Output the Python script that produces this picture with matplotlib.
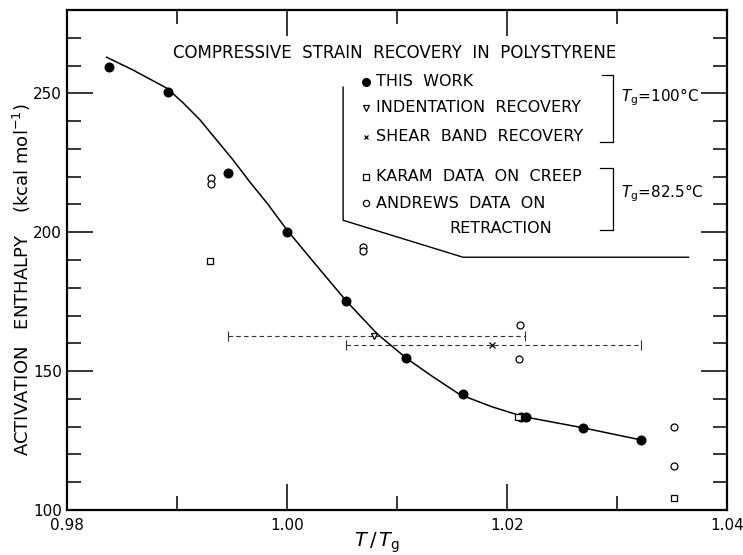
import matplotlib
matplotlib.use('Agg')
import matplotlib.pyplot as plt
from matplotlib.ticker import MultipleLocator

# data
this_work_x = [0.9838, 0.9892, 0.9946, 1.0000, 1.0054, 1.0108, 1.0160, 1.0213, 1.0217, 1.0269, 1.0322]
this_work_y = [259.6, 250.4, 221.2, 200.0, 175.2, 154.8, 141.8, 133.6, 133.6, 129.6, 125.2]

# hand-drawn fit curve, traced
fit_x = [0.9836, 0.9860, 0.9891, 0.9906, 0.9921, 0.9936, 0.9951, 0.9966, 0.9982, 1.0000,
         1.0026, 1.0054, 1.0082, 1.0108, 1.0131, 1.0157, 1.0186, 1.0215, 1.0269, 1.0322]
fit_y = [263.0, 258.4, 251.8, 246.4, 240.4, 233.2, 226.0, 218.2, 210.4, 200.8,
         188.4, 175.2, 163.4, 154.8, 148.4, 141.6, 137.2, 133.6, 129.6, 125.2]

andrews_x = [0.9931, 0.9931, 1.0069, 1.0069, 1.0212, 1.0211, 1.0352, 1.0352]
andrews_y = [219.6, 217.2, 194.8, 193.3, 166.7, 154.2, 129.9, 115.9]

karam_x = [0.9930, 1.0210, 1.0352]
karam_y = [189.7, 133.4, 104.2]

indent_x, indent_y = 1.0079, 162.6
indent_err = [[0.0133], [0.0137]]
shear_x, shear_y = 1.0186, 159.4
shear_err = [[0.0132], [0.0136]]

fig = plt.figure(figsize=(7.43, 5.55), dpi=100)
ax = fig.add_axes([67/743, 45/555, 660/743, 500/555])

ax.plot(fit_x, fit_y, color='black', lw=1.1)
ax.plot(this_work_x, this_work_y, 'o', color='black', ms=6.2)
ax.plot(andrews_x, andrews_y, 'o', mfc='white', mec='black', mew=0.9, ms=5)
ax.plot(karam_x, karam_y, 's', mfc='white', mec='black', mew=0.9, ms=4.8)

# error bars (dashed)
for x, y, err in [(indent_x, indent_y, indent_err), (shear_x, shear_y, shear_err)]:
    eb = ax.errorbar([x], [y], xerr=err, fmt='none', ecolor='#333333', elinewidth=0.8,
                     capsize=3.5, capthick=0.8)
    eb[2][0].set_linestyle((0, (4, 3)))
ax.plot([indent_x], [indent_y], 'v', mfc='white', mec='black', mew=0.9, ms=5)
ax.plot([shear_x], [shear_y], 'x', color='black', mew=0.9, ms=4)

# legend box outline
ax.plot([1.0051, 1.0051, 1.0160, 1.0365], [252.2, 204.3, 191.0, 191.0], color='black', lw=1.0)

ax.text(1.0098, 264.7, 'COMPRESSIVE  STRAIN  RECOVERY  IN  POLYSTYRENE',
        ha='center', va='center', fontsize=12)

mk_x = 1.0072
tx_x = 1.0081
ax.plot([mk_x], [254.1], 'o', color='black', ms=5.5)
ax.text(tx_x, 254.1, 'THIS  WORK', va='center', fontsize=11.5)
ax.plot([mk_x], [244.8], 'v', mfc='white', mec='black', mew=0.9, ms=4.5)
ax.text(tx_x, 244.8, 'INDENTATION  RECOVERY', va='center', fontsize=11.5)
ax.plot([mk_x], [234.3], 'x', color='black', mew=0.9, ms=3.5)
ax.text(tx_x, 234.3, 'SHEAR  BAND  RECOVERY', va='center', fontsize=11.5)
ax.plot([mk_x], [219.9], 's', mfc='white', mec='black', mew=0.9, ms=4.5)
ax.text(tx_x, 219.9, 'KARAM  DATA  ON  CREEP', va='center', fontsize=11.5)
ax.plot([mk_x], [210.5], 'o', mfc='white', mec='black', mew=0.9, ms=4.5)
ax.text(tx_x, 210.5, 'ANDREWS  DATA  ON', va='center', fontsize=11.5)
ax.text(1.0194, 201.5, 'RETRACTION', ha='center', va='center', fontsize=11.5)

# brackets
ax.plot([1.0286, 1.0296, 1.0296, 1.0285], [256.6, 256.6, 232.5, 232.5], color='black', lw=0.9)
ax.plot([1.0285, 1.0296, 1.0296, 1.0285], [223.1, 223.1, 200.8, 200.8], color='black', lw=0.9)
ax.text(1.0304, 248.7, r'$T_{\rm g}$=100°C', va='center', fontsize=11)
ax.text(1.0304, 214.2, r'$T_{\rm g}$=82.5°C', va='center', fontsize=11)

ax.set_xlim(0.98, 1.04)
ax.set_ylim(100, 280)
ax.xaxis.set_minor_locator(MultipleLocator(0.01))
ax.yaxis.set_minor_locator(MultipleLocator(10))
ax.set_xticks([0.98, 1.00, 1.02, 1.04])
ax.set_xticklabels(['0.98', '1.00', '1.02', '1.04'])
ax.set_yticks([100, 150, 200, 250])
ax.tick_params(which='both', direction='in', top=True, right=True, width=1.1, labelsize=11)
ax.tick_params(which='major', length=19)
ax.tick_params(which='minor', length=10)
ax.tick_params(axis='x', pad=6)
for s in ax.spines.values():
    s.set_linewidth(1.6)

fig.text(22/743, 1 - 280/555, r'ACTIVATION   ENTHALPY    (kcal mol$^{-1}$)',
         rotation=90, ha='center', va='center', fontsize=13)
fig.text(377/743, 1 - 543/555, r'$T\,/\,T_{\rm g}$', ha='center', va='center', fontsize=14)

fig.savefig('out.png', dpi=100)
